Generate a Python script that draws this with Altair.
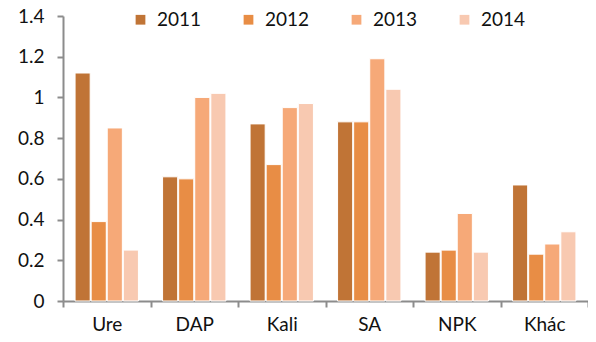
import altair as alt
import pandas as pd

categories = ["Ure", "DAP", "Kali", "SA", "NPK", "Khác"]
years = ["2011", "2012", "2013", "2014"]
v2011 = [1.12, 0.61, 0.87, 0.88, 0.24, 0.57]
v2012 = [0.39, 0.60, 0.67, 0.88, 0.25, 0.23]
v2013 = [0.85, 1.00, 0.95, 1.19, 0.43, 0.28]
v2014 = [0.25, 1.02, 0.97, 1.04, 0.24, 0.34]
colors = ["#C07436", "#E88D45", "#F6A978", "#F8C9B1"]

rows = []
for yr, vals in zip(years, [v2011, v2012, v2013, v2014]):
    for c, v in zip(categories, vals):
        rows.append({"cat": c, "year": yr, "value": v})
df = pd.DataFrame(rows)

FONT = "Lato"

chart = alt.Chart(df).mark_bar(stroke="white", strokeWidth=1).encode(
    x=alt.X("cat:N", sort=categories, title=None,
            scale=alt.Scale(paddingInner=0, paddingOuter=0),
            axis=alt.Axis(labelAngle=0, tickBand="extent", labelPadding=8,
                          domainColor="#8c8c8c", tickColor="#8c8c8c",
                          domainWidth=2, tickWidth=2, tickSize=6)),
    xOffset=alt.XOffset("year:N", sort=years,
                        scale=alt.Scale(paddingInner=0.06, paddingOuter=0.75)),
    y=alt.Y("value:Q", title=None,
            scale=alt.Scale(domain=[0, 1.4], nice=False),
            axis=alt.Axis(values=[0, 0.2, 0.4, 0.6, 0.8, 1.0, 1.2, 1.4],
                          format=".1~f", grid=False, labelPadding=13,
                          domainColor="#8c8c8c", tickColor="#8c8c8c",
                          domainWidth=2, tickWidth=2, tickSize=6)),
    color=alt.Color("year:N", sort=years,
                    scale=alt.Scale(domain=years, range=colors),
                    legend=alt.Legend(title=None, orient="none", direction="horizontal",
                                      legendX=68, legendY=-6, columns=4,
                                      symbolType="square", symbolSize=95,
                                      symbolStrokeWidth=0,
                                      labelOffset=7, columnPadding=37)),
).properties(
    width=525, height=285,
    autosize=alt.AutoSizeParams(type="none"),
    padding={"left": 55, "top": 8, "right": 0, "bottom": 33},
).configure_view(stroke=None).configure_axis(
    labelFont=FONT, labelFontSize=19, labelColor="#111"
).configure_legend(
    labelFont=FONT, labelFontSize=19, labelColor="#111", labelLimit=0
)

chart.save("out.html", embed_options={"renderer": "svg", "actions": False})
